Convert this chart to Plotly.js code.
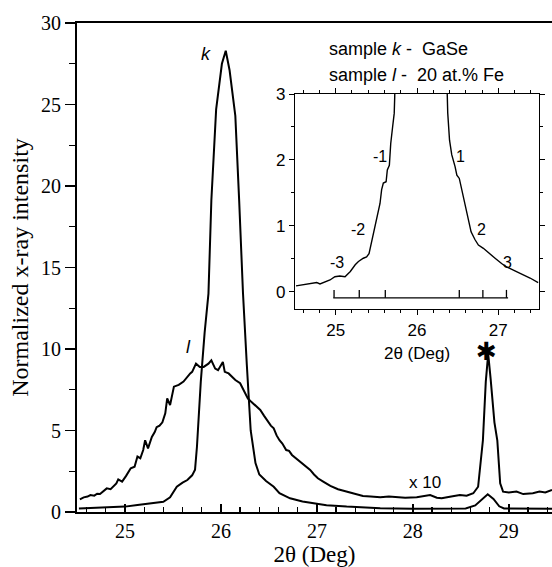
<!DOCTYPE html>
<html>
<head>
<meta charset="utf-8">
<script src="https://cdn.plot.ly/plotly-3.0.1.min.js"></script>
<style>html,body{margin:0;padding:0;background:#fff;}#chart{width:552px;height:567px;}</style>
</head>
<body>
<div id="chart"></div>
<script>
// ---- main panel: sample k (GaSe) ----
var kTheta = [24.52, 24.8, 25.0, 25.13, 25.25, 25.40, 25.47, 25.54, 25.60, 25.65, 25.70, 25.73, 25.75, 25.79, 25.83, 25.87, 25.90, 25.95, 26.01, 26.05, 26.09, 26.15, 26.19, 26.23, 26.27, 26.31, 26.36, 26.40, 26.47, 26.55, 26.61, 26.72, 26.85, 26.96, 27.1, 27.31, 27.5, 27.66, 28.0, 28.3, 28.55, 28.65, 28.72, 28.78, 28.84, 28.9, 28.95, 29.2, 29.45];
var kInt = [0.22, 0.27, 0.33, 0.43, 0.5, 0.63, 0.9, 1.55, 1.8, 1.96, 2.25, 2.6, 4.0, 8.0, 11.0, 13.4, 19.1, 24.7, 27.5, 28.3, 27.1, 24.3, 19.1, 13.4, 9.0, 5.0, 3.0, 2.3, 1.9, 1.55, 1.15, 0.84, 0.65, 0.53, 0.42, 0.33, 0.26, 0.23, 0.2, 0.2, 0.22, 0.4, 0.8, 1.09, 0.8, 0.35, 0.22, 0.2, 0.2];

// ---- main panel: sample l (20 at.% Fe), x10 ----
var lTheta = [24.53, 24.57, 24.61, 24.64, 24.68, 24.71, 24.74, 24.78, 24.81, 24.85, 24.88, 24.91, 24.93, 24.97, 25.01, 25.04, 25.06, 25.10, 25.13, 25.16, 25.19, 25.21, 25.24, 25.28, 25.31, 25.33, 25.36, 25.39, 25.42, 25.44, 25.47, 25.51, 25.56, 25.61, 25.65, 25.68, 25.70, 25.74, 25.78, 25.82, 25.87, 25.90, 25.94, 25.97, 26.02, 26.04, 26.08, 26.11, 26.15, 26.20, 26.24, 26.28, 26.31, 26.35, 26.41, 26.45, 26.48, 26.52, 26.55, 26.58, 26.61, 26.64, 26.68, 26.71, 26.74, 26.78, 26.82, 26.87, 26.93, 26.97, 27.01, 27.07, 27.14, 27.22, 27.31, 27.40, 27.48, 27.56, 27.66, 27.75, 27.83, 27.92, 28.04, 28.10, 28.18, 28.25, 28.30, 28.40, 28.49, 28.56, 28.63, 28.68, 28.70, 28.73, 28.76, 28.785, 28.81, 28.85, 28.88, 28.91, 28.94, 29.0, 29.08, 29.15, 29.25, 29.32, 29.38, 29.45];
var lInt = [0.78, 0.9, 0.95, 1.04, 1.0, 1.12, 1.1, 1.3, 1.45, 1.4, 1.55, 1.75, 2.0, 1.86, 2.2, 2.5, 2.68, 2.78, 3.4, 3.3, 3.8, 4.4, 3.9, 4.6, 4.9, 5.2, 5.3, 5.5, 6.05, 6.97, 6.56, 7.69, 7.8, 8.0, 8.3, 8.5, 8.6, 9.1, 8.9, 8.9, 9.1, 9.3, 8.8, 8.7, 9.2, 8.6, 8.5, 8.3, 8.1, 7.9, 7.4, 6.97, 6.8, 6.56, 6.26, 5.9, 5.64, 5.3, 5.13, 4.7, 4.4, 4.2, 3.8, 3.75, 3.5, 3.3, 3.09, 2.85, 2.58, 2.3, 2.07, 1.85, 1.6, 1.4, 1.25, 1.1, 0.98, 0.95, 0.90, 0.95, 0.90, 0.88, 0.90, 0.95, 1.04, 0.88, 0.84, 0.95, 1.04, 1.0, 1.15, 1.55, 2.78, 4.4, 8.0, 9.7, 8.2, 5.5, 4.4, 1.76, 1.25, 1.2, 1.25, 1.1, 1.15, 1.25, 1.2, 1.35];

// ---- inset: sample k wings ----
var inTheta = [24.512, 24.767, 24.807, 24.93, 24.99, 25.05, 25.115, 25.18, 25.24, 25.28, 25.34, 25.38, 25.41, 25.43, 25.46, 25.50, 25.545, 25.565, 25.586, 25.62, 25.635, 25.66, 25.677, 25.70, 25.72, 25.726, 25.75, 26.05, 26.35, 26.366, 26.378, 26.40, 26.427, 26.468, 26.49, 26.52, 26.55, 26.59, 26.63, 26.665, 26.714, 26.755, 26.816, 26.88, 26.96, 27.04, 27.10, 27.185, 27.31, 27.39, 27.49];
var inInt = [0.091, 0.141, 0.121, 0.18, 0.23, 0.24, 0.23, 0.31, 0.41, 0.46, 0.51, 0.53, 0.58, 0.69, 0.84, 1.09, 1.34, 1.55, 1.65, 1.67, 1.85, 1.92, 2.25, 2.50, 2.71, 2.96, 4.0, 28.3, 4.0, 2.96, 2.71, 2.30, 2.08, 1.90, 1.77, 1.72, 1.55, 1.34, 1.09, 0.91, 0.79, 0.71, 0.66, 0.59, 0.51, 0.43, 0.38, 0.33, 0.26, 0.21, 0.14];

// satellite order labels and positions
var satPos = [24.98, 25.29, 25.61, 26.52, 26.81, 27.10];
var satLabels = ['-3', '-2', '-1', '1', '2', '3'];
var satLabelX = [25.02, 25.27, 25.55, 26.54, 26.79, 27.11];
var satLabelY = [0.45, 0.94, 2.05, 2.05, 0.94, 0.45];

var serif = 'Liberation Serif, Times New Roman, serif';
var sans = 'Liberation Sans, Arial, Helvetica, sans-serif';

var traces = [
  {x: kTheta, y: kInt, mode: 'lines', line: {color: '#000', width: 2}, xaxis: 'x', yaxis: 'y', hoverinfo: 'skip'},
  {x: lTheta, y: lInt, mode: 'lines', line: {color: '#000', width: 2}, xaxis: 'x', yaxis: 'y', hoverinfo: 'skip'},
  {x: inTheta, y: inInt, mode: 'lines', line: {color: '#000', width: 1.4}, xaxis: 'x2', yaxis: 'y2', hoverinfo: 'skip'}
];

var barY = -0.09, tickTop = 0.03;
var shapes = [
  {type: 'line', xref: 'x2', yref: 'y2', x0: satPos[0] - 0.01, x1: satPos[satPos.length - 1] + 0.02, y0: barY, y1: barY, line: {color: '#000', width: 1.3}}
];
satPos.forEach(function (p) {
  shapes.push({type: 'line', xref: 'x2', yref: 'y2', x0: p, x1: p, y0: barY, y1: tickTop, line: {color: '#000', width: 1.3}});
});

var annotations = [
  {x: 25.84, y: 28.1, xref: 'x', yref: 'y', yanchor: 'middle', text: 'k', showarrow: false, font: {family: sans, size: 18, color: '#000', style: 'italic'}},
  {x: 25.66, y: 10.1, xref: 'x', yref: 'y', yanchor: 'middle', text: 'l', showarrow: false, font: {family: sans, size: 18, color: '#000', style: 'italic'}},
  {x: 28.13, y: 1.84, xref: 'x', yref: 'y', yanchor: 'middle', text: 'x 10', showarrow: false, font: {family: sans, size: 17, color: '#000'}},
  {x: 28.77, y: 9.8, xref: 'x', yref: 'y', yanchor: 'middle', text: '✱', showarrow: false, yshift: 1, font: {family: 'DejaVu Sans', size: 25, color: '#000'}},
  {x: 0.526, y: 0.9468, xref: 'paper', yref: 'paper', xanchor: 'left', yanchor: 'middle', text: 'sample <i>k</i> -\u00a0\u00a0GaSe', showarrow: false, font: {family: sans, size: 18, color: '#000'}},
  {x: 0.526, y: 0.8937, xref: 'paper', yref: 'paper', xanchor: 'left', yanchor: 'middle', text: 'sample <i>l</i> -\u00a0\u00a020 at.% Fe', showarrow: false, font: {family: sans, size: 18, color: '#000'}}
];
satLabels.forEach(function (t, i) {
  annotations.push({x: satLabelX[i], y: satLabelY[i], xref: 'x2', yref: 'y2', yanchor: 'middle', text: t, showarrow: false, font: {family: sans, size: 16, color: '#000'}});
});

var layout = {
  width: 552, height: 567,
  margin: {l: 77, r: 0, t: 23, b: 55, pad: 0},
  paper_bgcolor: '#fff', plot_bgcolor: '#fff',
  showlegend: false,
  xaxis: {
    domain: [0, 1], range: [24.5, 29.45], anchor: 'y',
    showline: true, linewidth: 2, linecolor: '#000', mirror: true,
    showgrid: false, zeroline: false,
    ticks: 'inside', ticklen: 8, tickwidth: 1.5, tickcolor: '#000', dtick: 1, tick0: 25,
    minor: {dtick: 0.2, tick0: 25, ticks: 'inside', ticklen: 5, tickwidth: 1.3, tickcolor: '#000', showgrid: false},
    tickfont: {family: serif, size: 20, color: '#000'},
    title: {text: '2θ (Deg)', font: {family: serif, size: 23, color: '#000'}, standoff: 10}
  },
  yaxis: {
    domain: [0, 1], range: [0, 30], anchor: 'x',
    showline: true, linewidth: 2, linecolor: '#000', mirror: false,
    showgrid: false, zeroline: false,
    ticks: 'outside', ticklen: 10, tickwidth: 1.5, tickcolor: '#000', dtick: 5,
    minor: {dtick: 2.5, ticks: 'outside', ticklen: 6, tickwidth: 1.3, tickcolor: '#000', showgrid: false},
    tickfont: {family: serif, size: 20, color: '#000'},
    title: {text: 'Normalized x-ray intensity', font: {family: serif, size: 24, color: '#000'}, standoff: 6}
  },
  xaxis2: {
    domain: [0.459, 0.9726], range: [24.5, 27.5], anchor: 'y2',
    showline: true, linewidth: 1.2, linecolor: '#000', mirror: 'allticks',
    showgrid: false, zeroline: false,
    ticks: 'outside', ticklen: 5, tickwidth: 1, tickcolor: '#000', dtick: 1, tick0: 25,
    minor: {dtick: 0.2, tick0: 25, ticks: 'outside', ticklen: 3, tickwidth: 1, tickcolor: '#000', showgrid: false},
    tickfont: {family: sans, size: 17, color: '#000'},
    title: {text: '2θ (Deg)', font: {family: sans, size: 17, color: '#000'}, standoff: 8}
  },
  yaxis2: {
    domain: [0.4151, 0.8548], range: [-0.26, 3], anchor: 'x2',
    showline: true, linewidth: 1.2, linecolor: '#000', mirror: 'allticks',
    showgrid: false, zeroline: false,
    ticks: 'outside', ticklen: 5, tickwidth: 1, tickcolor: '#000', dtick: 1, tick0: 0,
    minor: {dtick: 0.5, ticks: 'outside', ticklen: 3, tickwidth: 1, tickcolor: '#000', showgrid: false},
    tickfont: {family: sans, size: 17, color: '#000'}
  },
  shapes: shapes,
  annotations: annotations
};

Plotly.newPlot('chart', traces, layout, {staticPlot: true, displayModeBar: false});
</script>
</body>
</html>
